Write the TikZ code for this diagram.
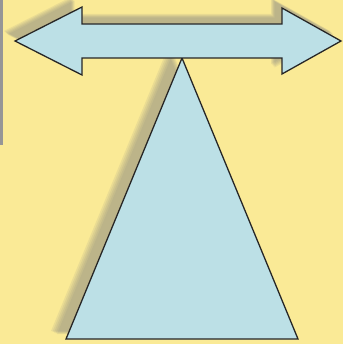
\documentclass[tikz,border=0pt]{standalone}
\begin{document}
\begin{tikzpicture}[x=0.03cm,y=-0.03cm,
  blueshape/.style={fill=shapeblue,draw=black!85,line width=1.1pt,line join=miter},
  shadowcopy/.style={fill=black!50,opacity=0.13,draw=none}]
\definecolor{bgyellow}{RGB}{250,234,150}
\definecolor{shapeblue}{RGB}{188,224,230}
\definecolor{bargray}{RGB}{150,150,150}
\useasboundingbox (0,0) rectangle (343,344);
\fill[bgyellow] (0,0) rectangle (343,344);
\fill[bargray] (0,0) rectangle (3,145);
% shadows
\foreach \d in {0,1.5,3,4.5,6} {
  \fill[shadowcopy,shift={(-11+\d*0.6,-10+\d*0.6)}]
    (15,41) -- (82,7) -- (82,24) -- (282,24) -- (282,8) -- (341,41) -- (282,74) -- (282,58) -- (82,58) -- (82,75) -- cycle;
  \fill[shadowcopy,shift={(-15+\d,-8+\d*0.5)}]
    (182,58) -- (298,339) -- (66,339) -- cycle;
}
% triangle
\coordinate (apex) at (182,58);
\coordinate (bl) at (66,339);
\coordinate (br) at (298,339);
\draw[blueshape] (apex) -- (br) -- (bl) -- cycle;
% double arrow
\coordinate (ltip) at (15,41);
\coordinate (rtip) at (341,41);
\draw[blueshape] (ltip) -- (82,7) -- (82,24) -- (282,24) -- (282,8) -- (rtip) -- (282,74) -- (282,58) -- (82,58) -- (82,75) -- cycle;
\end{tikzpicture}
\end{document}
